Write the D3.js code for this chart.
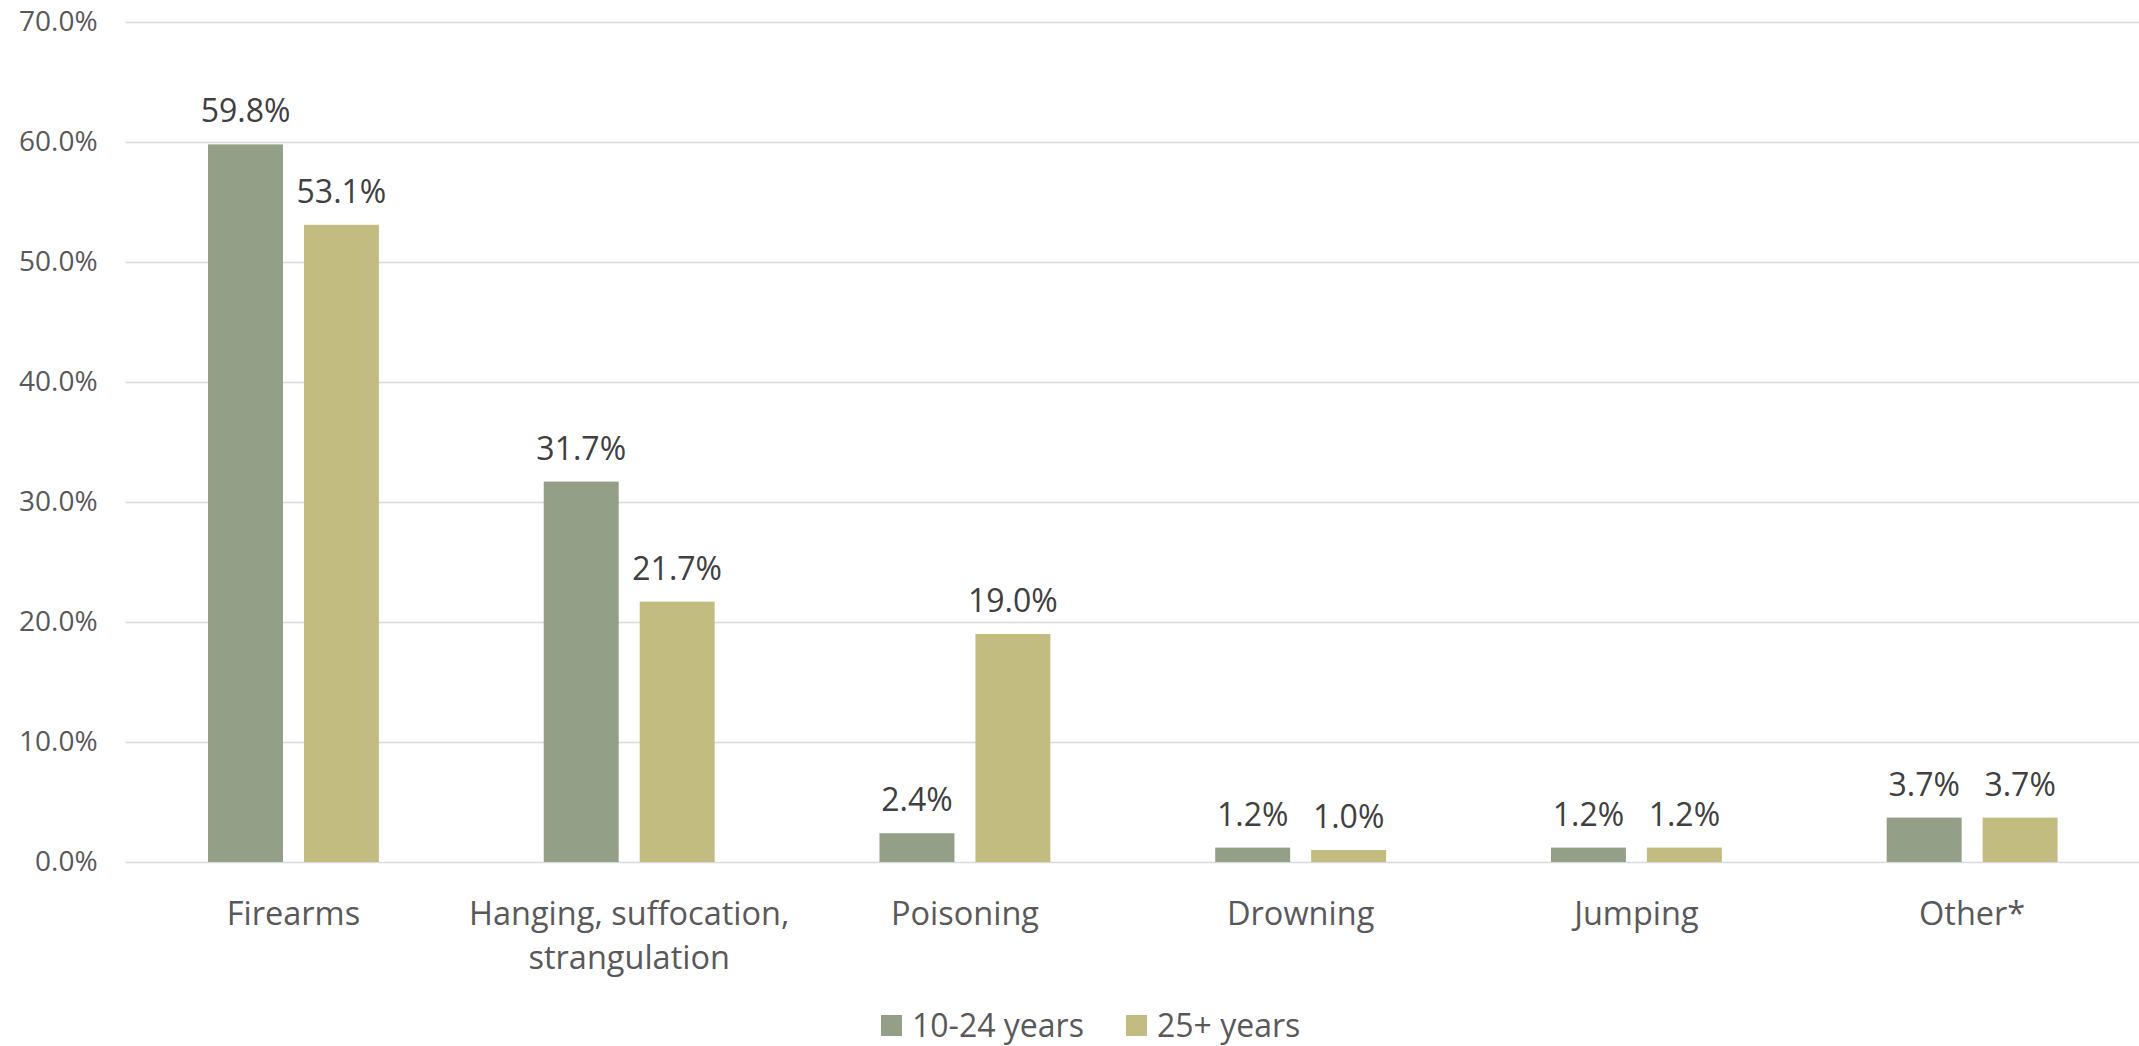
<!DOCTYPE html>
<html>
<head>
<meta charset="utf-8">
<script src="https://cdn.jsdelivr.net/npm/d3@7"></script>
<style>
  body { margin: 0; background: #fff; }
  svg text { font-family: "Open Sans", sans-serif; }
</style>
</head>
<body>
<figure id="chart" style="margin:0"></figure>
<script>
const categories = ["Firearms", "Hanging, suffocation,\nstrangulation", "Poisoning", "Drowning", "Jumping", "Other*"];
const seriesNames = ["10-24 years", "25+ years"];
const youth = [59.8, 31.7, 2.4, 1.2, 1.2, 3.7];
const adult = [53.1, 21.7, 19.0, 1.0, 1.2, 3.7];
const yTicks = [0, 10, 20, 30, 40, 50, 60, 70];
const colors = ["#949F87", "#C2BC80"];

const W = 2139, H = 1046;
const plotLeft = 125.6, plotRight = 2140, plotTop = 22, plotBottom = 862;

const svg = d3.select("#chart")
  .append("svg")
  .attr("width", W)
  .attr("height", H);

const rows = categories.map((c, i) => ({cat: c, values: [youth[i], adult[i]]}));

// scales
const x = d3.scaleBand()
  .domain(categories)
  .range([plotLeft, plotRight])
  .paddingInner(0.491)
  .paddingOuter(0.2455);

const xSub = d3.scaleBand()
  .domain(seriesNames)
  .range([0, x.bandwidth()])
  .paddingInner(0.219);

const y = d3.scaleLinear()
  .domain([0, 70])
  .range([plotBottom, plotTop]);

// Y axis + gridlines
const yAxis = svg.append("g")
  .attr("transform", "translate(" + plotLeft + ",0)")
  .call(d3.axisLeft(y)
    .tickValues(yTicks)
    .tickSize(-(plotRight - plotLeft))
    .tickPadding(28)
    .tickFormat(d => d.toFixed(1) + "%"));
yAxis.select(".domain").remove();
yAxis.selectAll(".tick line")
  .attr("stroke", "#D9D9D9")
  .attr("stroke-width", 1.6);
yAxis.selectAll(".tick text")
  .attr("fill", "#595959")
  .style("font-size", "28px");

// bars
const groups = svg.append("g")
  .selectAll("g")
  .data(rows)
  .enter()
  .append("g")
  .attr("transform", d => "translate(" + x(d.cat) + ",0)");

groups.selectAll("rect")
  .data(d => d.values.map((v, j) => ({name: seriesNames[j], v: v, j: j})))
  .enter()
  .append("rect")
  .attr("x", d => xSub(d.name))
  .attr("width", xSub.bandwidth())
  .attr("y", d => y(d.v))
  .attr("height", d => y(0) - y(d.v))
  .attr("fill", d => colors[d.j]);

// data labels
groups.selectAll("text.val")
  .data(d => d.values.map((v, j) => ({name: seriesNames[j], v: v})))
  .enter()
  .append("text")
  .attr("class", "val")
  .attr("x", d => xSub(d.name) + xSub.bandwidth() / 2)
  .attr("y", d => y(d.v) - 22)
  .attr("text-anchor", "middle")
  .attr("fill", "#404040")
  .style("font-size", "32px")
  .text(d => d.v.toFixed(1) + "%");

// category labels
const xAxis = svg.append("g")
  .attr("transform", "translate(0," + plotBottom + ")")
  .call(d3.axisBottom(x).tickSize(0).tickPadding(0));
xAxis.select(".domain").remove();
xAxis.selectAll(".tick text").each(function(d) {
  const t = d3.select(this);
  const lines = d.split("\n");
  t.text(null)
    .attr("y", 0)
    .attr("dy", null)
    .attr("fill", "#595959")
    .style("font-size", "32.5px");
  lines.forEach((ln, k) => {
    t.append("tspan")
      .attr("x", 0)
      .attr("y", 63 + k * 44)
      .text(ln);
  });
});

// legend
const legend = svg.append("g");
const legendX = [881, 1126];
seriesNames.forEach((s, i) => {
  const g = legend.append("g").attr("transform", "translate(" + legendX[i] + ",1015)");
  g.append("rect")
    .attr("width", 21)
    .attr("height", 21)
    .attr("fill", colors[i]);
  g.append("text")
    .attr("x", 31)
    .attr("y", 10.5)
    .attr("dy", "0.35em")
    .attr("fill", "#595959")
    .style("font-size", "32px")
    .text(s);
});
</script>
</body>
</html>
